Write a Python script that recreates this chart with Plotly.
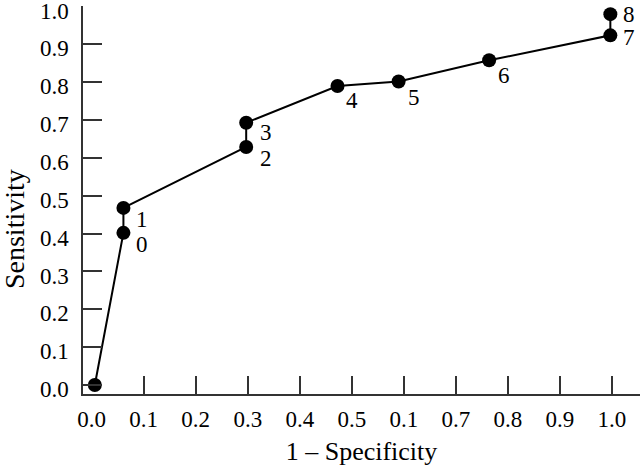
import plotly.graph_objects as go

# Data
fpr = [0.006, 0.061, 0.061, 0.297, 0.297, 0.4725, 0.59, 0.764, 0.997, 0.997]
sens = [0.0, 0.402, 0.468, 0.629, 0.693, 0.790, 0.802, 0.858, 0.924, 0.980]
point_labels = ["", "0", "1", "2", "3", "4", "5", "6", "7", "8"]

x_tickvals = [0.0, 0.1, 0.2, 0.3, 0.4, 0.5, 0.6, 0.7, 0.8, 0.9, 1.0]
x_ticktext = ["0.0", "0.1", "0.2", "0.3", "0.4", "0.5", "0.1", "0.7", "0.8", "0.9", "1.0"]
y_tickvals = [0.0, 0.1, 0.2, 0.3, 0.4, 0.5, 0.6, 0.7, 0.8, 0.9, 1.0]
y_ticktext = ["0.0", "0.1", "0.2", "0.3", "0.4", "0.5", "0.6", "0.7", "0.8", "0.9", "1.0"]

# label offsets in pixels (right, down)
label_offsets = [(0, 0), (19, 12), (19, 12), (20, 12), (20, 10), (15, 14),
                 (15, 16), (15, 15), (19, 2), (19, 0)]

FONT = "Liberation Serif"
XR = [-0.0167, 1.054]
YR = [-0.0238, 1.0015]

fig = go.Figure()
fig.add_trace(go.Scatter(
    x=fpr, y=sens, mode="lines+markers",
    line=dict(color="black", width=2),
    marker=dict(color="black", size=14),
    showlegend=False, hoverinfo="skip",
))

for xv, yv, lab, (dx, dy) in zip(fpr, sens, point_labels, label_offsets):
    if not lab:
        continue
    fig.add_annotation(x=xv, y=yv, text=lab, showarrow=False,
                       xshift=dx, yshift=-dy, xanchor="center", yanchor="middle",
                       font=dict(family=FONT, size=23, color="black"))

# y-axis title (placed as annotation to match reference position)
fig.add_annotation(x=-0.124, y=0.425, xref="paper", yref="paper",
                   text="Sensitivity", textangle=-90, showarrow=False,
                   xanchor="center", yanchor="middle",
                   font=dict(family=FONT, size=28, color="black"))

fig.update_layout(
    width=640, height=466,
    paper_bgcolor="white", plot_bgcolor="white",
    margin=dict(l=83, r=0, t=6, b=72),
    font=dict(family=FONT, color="black"),
    xaxis=dict(
        range=XR, tickvals=x_tickvals, ticktext=x_ticktext,
        ticks="", showgrid=False, zeroline=False,
        showline=True, linecolor="#333333", linewidth=1.5,
        tickfont=dict(family=FONT, size=23, color="black"),
        ticklabelstandoff=4,
        title=dict(text="1 – Specificity", font=dict(family=FONT, size=26, color="black"), standoff=14),
        automargin=False,
    ),
    xaxis2=dict(
        range=XR, overlaying="x", side="bottom", anchor="y",
        tickvals=x_tickvals[1:], showticklabels=False,
        ticks="inside", ticklen=18, tickwidth=1.5, tickcolor="#333333",
        showgrid=False, zeroline=False, showline=False,
    ),
    yaxis=dict(
        range=YR, tickvals=y_tickvals, ticktext=y_ticktext,
        ticks="inside", ticklen=19, tickwidth=1.5, tickcolor="#333333",
        showgrid=False, zeroline=False,
        showline=True, linecolor="#333333", linewidth=1.5,
        tickfont=dict(family=FONT, size=23, color="black"),
        ticklabelstandoff=8, ticklabeloverflow="allow", ticklabelshift=4,
        automargin=False,
    ),
)
# invisible trace to activate xaxis2
fig.add_trace(go.Scatter(x=[None], y=[None], xaxis="x2", yaxis="y", showlegend=False))

fig.write_html("out.html", config={"displayModeBar": False},
               post_script="document.body.style.margin='0';")
